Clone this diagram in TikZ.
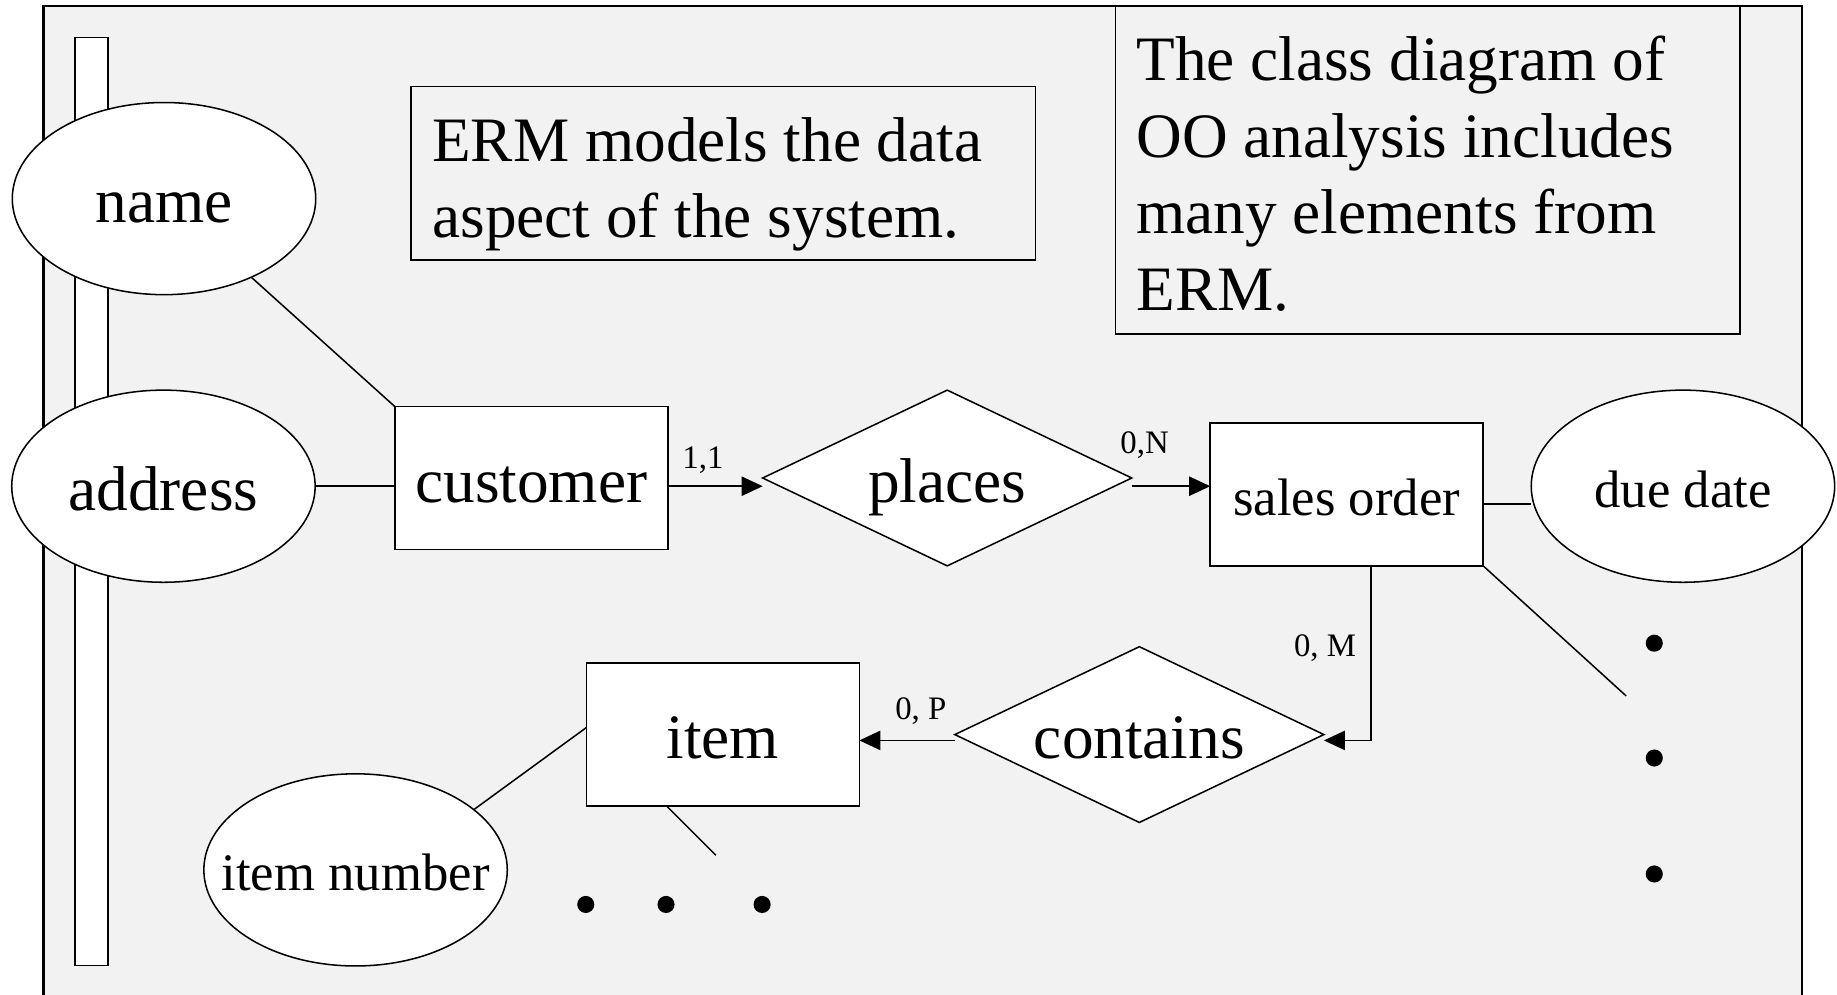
\documentclass[tikz,border=0pt]{standalone}
\usepackage{fontspec}
\setmainfont{Liberation Serif}
\usetikzlibrary{shapes.geometric,arrows.meta,calc}
\definecolor{framefill}{RGB}{242,242,242}
\begin{document}
\begin{tikzpicture}[x=1pt,y=-1pt,
  every node/.style={inner sep=0pt, outer sep=0pt},
  big/.style={font=\fontsize{54}{65.3}\selectfont, text height=41pt, text depth=0pt},
  mid/.style={font=\fontsize{45}{54}\selectfont, text height=36pt, text depth=0pt},
  small/.style={font=\fontsize{28}{33}\selectfont},
  para/.style={font=\fontsize{54}{65.3}\selectfont, align=left, anchor=north west},
  shp/.style={draw, fill=white, line width=1.3pt},
  entity/.style={shp, rectangle, minimum width=233pt, minimum height=122pt, big},
  attr/.style={shp, ellipse, minimum width=259pt, minimum height=164pt},
  rel/.style={shp, diamond, minimum width=315pt, minimum height=150pt, aspect=2.1, big},
  note/.style={draw, line width=1.3pt},
  conn/.style={line width=1.3pt},
  arr/.style={conn, -{Triangle[length=18pt,width=16.5pt]}},
  dot/.style={circle, fill=black, minimum size=14.6pt},
]
\useasboundingbox (0,0) rectangle (1568,849);

% slide frame, open at the bottom
\fill[framefill] (37,849) -- (37,5) -- (1538,5) -- (1538,849) -- cycle;
\draw[line width=2pt] (37,849) -- (37,5) -- (1538,5) -- (1538,849);

% vertical bar on the left
\node[shp, rectangle, minimum width=28pt, minimum height=792pt] (bar) at (78,428) {};

% text boxes
\node[note, minimum width=533pt, minimum height=148pt] (ermbox) at (617.5,148) {};
\node[para] (ermtext) at (369,100) {ERM models the data\\aspect of the system.};
\node[note, minimum width=533pt, minimum height=280pt] (oobox) at (1218.5,145) {};
\node[para] (ootext) at (970,31) {The class diagram of\\OO analysis includes\\many elements from\\ERM.};

% ER diagram
\node[attr, big] (name) at (140,169.5) {name};
\node[attr, big] (address) at (139.5,415) {address};
\node[entity] (customer) at (453.5,408) {customer};
\node[rel] (places) at (808.5,408) {places};
\node[entity, mid] (salesorder) at (1149.5,422) {sales order};
\node[attr, mid] (duedate) at (1436.5,415) {due date};
\node[entity] (item) at (617,627) {item};
\node[rel] (contains) at (972.5,627) {contains};
\node[attr, mid] (itemnumber) at (303.5,742.5) {\makebox[0pt]{item number}};

% helper rows and free ends
\coordinate (row1) at (0,415);
\coordinate (row2) at (0,430);
\coordinate (row3) at (0,632);
\coordinate (sodrop) at (1170,0);
\coordinate (soend) at (1388,594);
\coordinate (itemfoot) at (569,0);
\coordinate (itemend) at (611,730);

% connectors
\draw[conn] (name) -- (customer.north west);
\draw[conn] (address.east |- row1) -- (customer.west |- row1);
\draw[arr] (customer.east |- row1) -- (places.west |- row1);
\draw[arr] (places.east |- row1) -- (salesorder.west |- row1);
\draw[conn] (salesorder.east |- row2) -- (duedate.west |- row2);
\draw[conn] (salesorder.south east) -- (soend);
\draw[arr] (salesorder.south -| sodrop) |- (contains.east |- row3);
\draw[arr] (contains.west |- row3) -- (item.east |- row3);
\draw[conn] ($(item.west)+(0,-6)$) -- (itemnumber.27.7);
\draw[conn] (item.south -| itemfoot) -- (itemend);

% cardinalities
\node[small, anchor=base] (lab11) at (600,400) {1,1};
\node[small, anchor=base] (lab0n) at (977,387) {0,N};
\node[small, anchor=base] (lab0m) at (1131,560) {0, M};
\node[small, anchor=base] (lab0p) at (786,614) {0, P};

% ellipsis dots
\node[dot] (hdot1) at (500,772) {};
\node[dot] (hdot2) at (568.5,772) {};
\node[dot] (hdot3) at (650.5,772) {};
\node[dot] (vdot1) at (1412,549) {};
\node[dot] (vdot2) at (1412,647) {};
\node[dot] (vdot3) at (1412,746) {};
\end{tikzpicture}
\end{document}
